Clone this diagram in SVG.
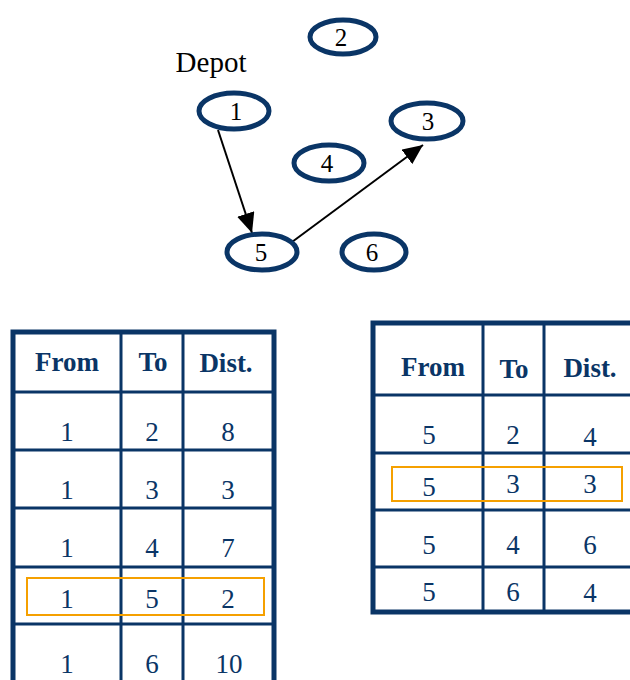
<svg xmlns="http://www.w3.org/2000/svg" width="630" height="680" viewBox="0 0 630 680">
  <defs>
    <marker id="arrow" viewBox="0 0 20 18" refX="20" refY="9" markerWidth="20" markerHeight="18" markerUnits="userSpaceOnUse" orient="auto">
      <path d="M0,0 L20,9 L0,18 Z" fill="#000"/>
    </marker>
    <style>
      .node ellipse { fill: #fff; stroke: #0a3566; stroke-width: 5; }
      .label { font-family: "Liberation Serif", "Times New Roman", serif; fill: #000; text-anchor: middle; }
      .edge { stroke: #000; stroke-width: 2; fill: none; }
      .frame { fill: #fff; stroke: #0a3566; stroke-width: 5; }
      .grid { stroke: #0a3566; stroke-width: 3; }
      .hd { font-family: "Liberation Serif", "Times New Roman", serif; font-weight: bold; font-size: 27px; fill: #0a3566; text-anchor: middle; }
      .cell { font-family: "Liberation Serif", "Times New Roman", serif; font-size: 27px; fill: #0a3566; text-anchor: middle; }
      .pick { fill: none; stroke: #f5a000; stroke-width: 2; }
    </style>
  </defs>

  <rect width="630" height="680" fill="#fff"/>

  <text class="label" x="211" y="72" font-size="29">Depot</text>

  <!-- route edges -->
  <g id="edges">
    <line class="edge" x1="218" y1="130" x2="252" y2="233" marker-end="url(#arrow)"/>
    <line class="edge" x1="292" y1="242" x2="423" y2="145" marker-end="url(#arrow)"/>
  </g>

  <g id="node-1" class="node">
    <ellipse cx="234" cy="111" rx="35" ry="18"/>
    <text class="label" x="236" y="120" font-size="25">1</text>
  </g>
  <g id="node-2" class="node">
    <ellipse cx="343" cy="37" rx="33" ry="17"/>
    <text class="label" x="341" y="46" font-size="25">2</text>
  </g>
  <g id="node-3" class="node">
    <ellipse cx="427" cy="121" rx="36" ry="18"/>
    <text class="label" x="428" y="130" font-size="25">3</text>
  </g>
  <g id="node-4" class="node">
    <ellipse cx="329" cy="163" rx="35" ry="18"/>
    <text class="label" x="327" y="172" font-size="25">4</text>
  </g>
  <g id="node-5" class="node">
    <ellipse cx="262" cy="252" rx="35" ry="18"/>
    <text class="label" x="261" y="261" font-size="25">5</text>
  </g>
  <g id="node-6" class="node">
    <ellipse cx="374" cy="252" rx="32" ry="18"/>
    <text class="label" x="372" y="261" font-size="25">6</text>
  </g>

  <!-- distances from node 1 -->
  <g id="table-from-1">
    <rect class="frame" x="13" y="332" width="261" height="370"/>
    <line class="grid" x1="121" y1="332" x2="121" y2="680"/>
    <line class="grid" x1="183" y1="332" x2="183" y2="680"/>
    <line class="grid" x1="13" y1="392" x2="274" y2="392"/>
    <line class="grid" x1="13" y1="450" x2="274" y2="450"/>
    <line class="grid" x1="13" y1="508" x2="274" y2="508"/>
    <line class="grid" x1="13" y1="567" x2="274" y2="567"/>
    <line class="grid" x1="13" y1="624" x2="274" y2="624"/>
    <text class="hd" x="67" y="371">From</text>
    <text class="hd" x="153" y="371">To</text>
    <text class="hd" x="226" y="372">Dist.</text>
    <text class="cell" x="67" y="441">1</text><text class="cell" x="152" y="441">2</text><text class="cell" x="228" y="441">8</text>
    <text class="cell" x="67" y="499">1</text><text class="cell" x="152" y="499">3</text><text class="cell" x="228" y="499">3</text>
    <text class="cell" x="67" y="557">1</text><text class="cell" x="152" y="557">4</text><text class="cell" x="228" y="557">7</text>
    <text class="cell" x="67" y="608">1</text><text class="cell" x="152" y="608">5</text><text class="cell" x="228" y="608">2</text>
    <text class="cell" x="67" y="673">1</text><text class="cell" x="152" y="673">6</text><text class="cell" x="229" y="673">10</text>
    <rect class="pick" x="27" y="578" width="237" height="37"/>
  </g>

  <!-- distances from node 5 -->
  <g id="table-from-5">
    <rect class="frame" x="373" y="323" width="270" height="289"/>
    <line class="grid" x1="483" y1="323" x2="483" y2="612"/>
    <line class="grid" x1="544" y1="323" x2="544" y2="612"/>
    <line class="grid" x1="373" y1="395" x2="630" y2="395"/>
    <line class="grid" x1="373" y1="453" x2="630" y2="453"/>
    <line class="grid" x1="373" y1="510" x2="630" y2="510"/>
    <line class="grid" x1="373" y1="567" x2="630" y2="567"/>
    <text class="hd" x="433" y="376">From</text>
    <text class="hd" x="514" y="378">To</text>
    <text class="hd" x="590" y="377">Dist.</text>
    <text class="cell" x="429" y="444">5</text><text class="cell" x="513" y="444">2</text><text class="cell" x="590" y="446">4</text>
    <text class="cell" x="429" y="496">5</text><text class="cell" x="513" y="493">3</text><text class="cell" x="590" y="493">3</text>
    <text class="cell" x="429" y="554">5</text><text class="cell" x="513" y="554">4</text><text class="cell" x="590" y="554">6</text>
    <text class="cell" x="429" y="601">5</text><text class="cell" x="513" y="601">6</text><text class="cell" x="590" y="602">4</text>
    <rect class="pick" x="392" y="467" width="230" height="34"/>
  </g>
</svg>
